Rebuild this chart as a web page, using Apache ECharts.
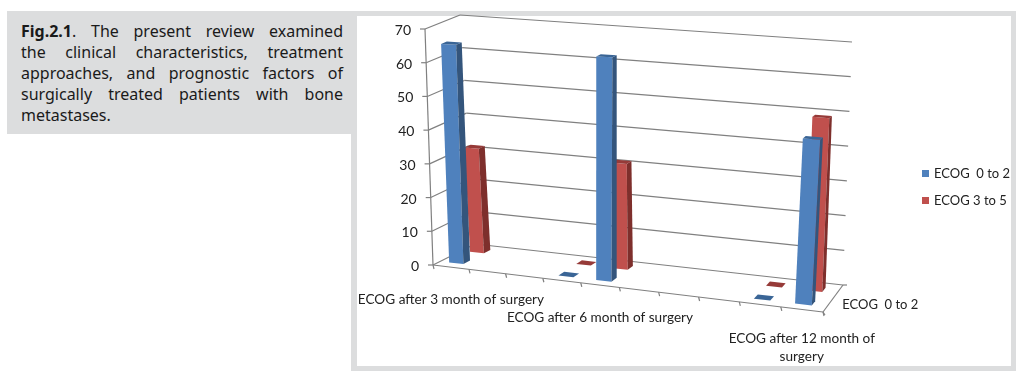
<!DOCTYPE html>
<html>
<head>
<meta charset="utf-8">
<script src="https://cdn.jsdelivr.net/npm/echarts@6/dist/echarts.min.js"></script>
<style>
  html, body { margin: 0; padding: 0; background: #fff; }
  #page { position: relative; width: 1029px; height: 384px; overflow: hidden; }
  #frame { position: absolute; left: 351px; top: 11px; width: 654px; height: 350px; border: solid #dcddde; border-width: 5px 5px 5px 6px; }
  #caption { position: absolute; left: 7px; top: 11px; width: 350px; height: 123px; background: #dcddde; }
  #caption div { position: absolute; left: 14px; width: 322px; font: 16px/21px "Noto Sans", sans-serif; color: #1a1a1a; text-align: justify; text-align-last: justify; white-space: nowrap; }
  #caption div.last { text-align-last: left; }
  #main { position: absolute; left: 0; top: 0; width: 1029px; height: 384px; }
</style>
</head>
<body>
<div id="page">
  <div id="frame"></div>
  <div id="caption">
    <div style="top:10px"><b>Fig.2.1</b>. The present review examined</div>
    <div style="top:31px">the clinical characteristics, treatment</div>
    <div style="top:52px">approaches, and prognostic factors of</div>
    <div style="top:73px">surgically treated patients with bone</div>
    <div class="last" style="top:94px">metastases.</div>
  </div>
  <div id="main"></div>
</div>
<script>
// 数据
var categories = ['ECOG after 3 month of surgery', '', '', '', 'ECOG after 6 month of surgery', '', '', '', '', 'ECOG after 12 month of\nsurgery'];
var blueValues = [65, null, null, 0, 64, null, null, null, 0, 45];
var redValues = [31.5, null, null, 0, 31, null, null, null, 0, 49];
var yTicks = [0, 10, 20, 30, 40, 50, 60, 70];
var depthLabel = 'ECOG  0 to 2';
var blueName = 'ECOG  0 to 2';
var redName = 'ECOG 3 to 5';

var FONT = 'Lato, "Open Sans", sans-serif';
var LINE = '#808080';

// 三维盒子的八个角 [前后, 左右, 上下]
var corners = {
  flb: [433, 265], frb: [823, 312], blb: [475, 244], brb: [843, 285],
  flt: [425, 29], frt: [838, 50], blt: [460, 15], brt: [852, 42]
};

// U: 左到右 0-1, V: 前到后 0-1, W: 下到上 0-1
function project(U, V, W) {
  var list = [
    [corners.flb, 1 - U, 1 - V, 1 - W, 0, 0],
    [corners.frb, U, 1 - V, 1 - W, 1, 0],
    [corners.blb, 1 - U, V, 1 - W, 0, 1],
    [corners.brb, U, V, 1 - W, 1, 1],
    [corners.flt, 1 - U, 1 - V, W, 0, 0],
    [corners.frt, U, 1 - V, W, 1, 0],
    [corners.blt, 1 - U, V, W, 0, 1],
    [corners.brt, U, V, W, 1, 1]
  ];
  var sx = 0, sy = 0, sw = 0;
  list.forEach(function (c) {
    var h = 1 - 0.085 * c[4] + 0.03 * c[5];
    var b = c[1] * c[2] * c[3] * h;
    sx += c[0][0] * b;
    sy += c[0][1] * b;
    sw += b;
  });
  return [sx / sw, sy / sw];
}

// 用隐藏坐标轴的比例尺换算成 0-1
function toBox(params, api, cat, value, v) {
  var rect = params.coordSys;
  var pt = api.coord([cat, value]);
  return project((pt[0] - rect.x) / rect.width, v, 1 - (pt[1] - rect.y) / rect.height);
}

function line(a, b) {
  return {
    type: 'line',
    shape: { x1: a[0], y1: a[1], x2: b[0], y2: b[1] },
    style: { stroke: LINE, lineWidth: 1.2 }
  };
}

function text(str, x, y, align, vAlign, size) {
  return {
    type: 'text',
    style: { text: str, x: x, y: y, align: align, verticalAlign: vAlign, font: size + 'px ' + FONT, fill: '#222', lineHeight: 18 }
  };
}

function poly(points, color) {
  return { type: 'polygon', shape: { points: points }, style: { fill: color } };
}

function renderYTick(params, api) {
  var t = api.value(1);
  var last = categories.length;
  var f = toBox(params, api, 0, t, 0);
  var b = toBox(params, api, 0, t, 1);
  var r = toBox(params, api, last, t, 1);
  return {
    type: 'group',
    children: [
      line(f, b),
      line(b, r),
      line([f[0] - 5, f[1]], f),
      text(String(t), f[0] - 14, f[1] + 1.5, 'right', 'middle', 14)
    ]
  };
}

function renderAxes(params, api) {
  var last = categories.length;
  var children = [
    line(toBox(params, api, 0, 0, 0), toBox(params, api, 0, yTicks[yTicks.length - 1], 0)),
    line(toBox(params, api, 0, 0, 0), toBox(params, api, last, 0, 0)),
    line(toBox(params, api, last, 0, 0), toBox(params, api, last, 0, 1))
  ];
  for (var i = 0; i <= last; i++) {
    var p = toBox(params, api, i, 0, 0);
    children.push(line(p, [p[0] + 1, p[1] + 4]));
    if (i < last && categories[i]) {
      var c = toBox(params, api, i + 0.5, 0, 0);
      // 两行的标签要往上一点
      var gap = categories[i].indexOf('\n') >= 0 ? 20 : 23;
      children.push(text(categories[i], c[0], c[1] + gap, 'center', 'top', 13.6));
    }
  }
  var d0 = toBox(params, api, last, 0, 1);
  var d1 = toBox(params, api, last, 0, 0);
  children.push(line(d0, [d0[0] + 4, d0[1]]));
  children.push(line(d1, [d1[0] + 2, d1[1] + 3]));
  var m = toBox(params, api, last, 0, 0.5);
  children.push(text(depthLabel, m[0] + 9, m[1] + 7, 'left', 'middle', 13));
  return { type: 'group', children: children };
}

// 画一根立体柱子: 正面、右侧面、顶面
function barRenderer(v0, v1, front, side, top) {
  return function (params, api) {
    var cat = api.value(0);
    var val = api.value(1);
    var u0 = cat + 0.25;
    var u1 = cat + 0.65;
    var fl = toBox(params, api, u0, 0, v0);
    var fr = toBox(params, api, u1, 0, v0);
    var br = toBox(params, api, u1, 0, v1);
    var tfl = toBox(params, api, u0, val, v0);
    var tfr = toBox(params, api, u1, val, v0);
    var tbr = toBox(params, api, u1, val, v1);
    var tbl = toBox(params, api, u0, val, v1);
    var children = [poly([tfl, tfr, tbr, tbl], top)];
    if (val > 0) {
      children.unshift(poly([fr, br, tbr, tfr], side));
      children.unshift(poly([fl, fr, tfr, tfl], front));
    }
    return { type: 'group', children: children };
  };
}

function toRows(values) {
  var rows = [];
  values.forEach(function (v, i) {
    if (v !== null) rows.push([i, v]);
  });
  return rows;
}

var chart = echarts.init(document.getElementById('main'), null, { renderer: 'canvas' });
var option = {
  animation: false,
  backgroundColor: 'transparent',
  grid: { left: 0, right: 0, top: 0, bottom: 0 },
  xAxis: { type: 'value', min: 0, max: categories.length, show: false },
  yAxis: { type: 'value', min: 0, max: 70, interval: 10, show: false },
  legend: {
    data: [blueName, redName],
    orient: 'vertical',
    left: 922,
    top: 167,
    padding: 0,
    itemWidth: 7,
    itemHeight: 7,
    itemGap: 14,
    icon: 'rect',
    textStyle: { fontFamily: FONT, fontSize: 13, color: '#222' }
  },
  series: [
    {
      type: 'custom', name: 'yTicks', silent: true, z: 1,
      coordinateSystem: 'cartesian2d', renderItem: renderYTick,
      data: yTicks.map(function (t) { return [0, t]; })
    },
    {
      type: 'custom', name: 'axes', silent: true, z: 1,
      coordinateSystem: 'cartesian2d', renderItem: renderAxes,
      data: [[0, 0]]
    },
    {
      type: 'custom', name: redName, silent: true, z: 2,
      coordinateSystem: 'cartesian2d',
      renderItem: barRenderer(0.67, 0.83, '#c0504d', '#7e2f2c', '#963a38'),
      itemStyle: { color: '#c0504d' },
      data: toRows(redValues)
    },
    {
      type: 'custom', name: blueName, silent: true, z: 3,
      coordinateSystem: 'cartesian2d',
      renderItem: barRenderer(0.17, 0.33, '#4f81bd', '#34557c', '#3a6596'),
      itemStyle: { color: '#4f81bd' },
      data: toRows(blueValues)
    }
  ]
};
chart.setOption(option);
</script>
</body>
</html>
